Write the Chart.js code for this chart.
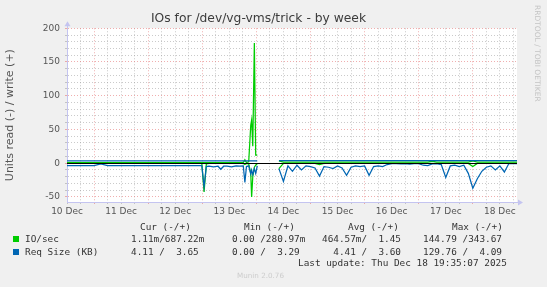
<!DOCTYPE html>
<html>
<head>
<meta charset="utf-8">
<title>IOs for /dev/vg-vms/trick - by week</title>
<script src="https://cdn.jsdelivr.net/npm/chart.js@4"></script>
<style>
  html, body { margin: 0; padding: 0; background: #f0f0f0; }
  #wrap { position: relative; width: 547px; height: 287px; overflow: hidden; background: #f0f0f0; }
  #wrap canvas { position: absolute; left: 0; top: 0; }
  .mono { position: absolute; white-space: pre; font-family: 'DejaVu Sans Mono', monospace; font-size: 9.4px; line-height: 10px; color: #333; }
  .swatch { position: absolute; width: 6px; height: 6px; }
  #vendor { position: absolute; left: 533px; top: 5px; writing-mode: vertical-rl; font-family: 'DejaVu Sans', sans-serif; font-size: 7.5px; color: #c4c4c4; white-space: nowrap; }
  #version { position: absolute; left: 0; width: 521px; top: 271px; text-align: center; font-family: 'DejaVu Sans', sans-serif; font-size: 7.2px; color: #cdcdcd; }
</style>
</head>
<body>
<div id="wrap">
  <canvas id="chart" width="547" height="287"></canvas>
  <div id="vendor">RRDTOOL / TOBI OETIKER</div>
  <div id="version">Munin 2.0.76</div>
</div>
<script>
// 시간축: 12월 10일 00:00 기준 경과 시간(h)
const timeHours = [
    12, 15, 18, 21, 24, 27, 30, 36, 42, 48, 54, 60, 66, 70, 71.8,
    72.8, 73.8, 75, 77, 79, 80.2, 81.5, 83, 85, 87, 88.5, 90.2, 90.9, 91.6, 92.6,
    93.5, 93.9, 94.4, 95.1, 95.7, 96.4, 97,
    106, 108, 110, 112, 114, 116, 118, 120, 122, 124, 126, 128, 130, 132, 134,
    136, 138, 140, 142, 144, 146, 148, 150, 152, 154, 156, 158, 160, 162, 164,
    166, 168, 170, 172, 174, 176, 178, 180, 182, 184, 186, 188, 190, 192, 194,
    196, 198, 200, 202, 204, 206, 208, 210, 211.6
];

// read 값은 아래(-)로, write 값은 위(+)로 그림
const ioRead = [
    0.4, 0.4, 0.4, 0.4, 0.4, 0.4, 0.4, 0.4, 0.4, 0.4, 0.4, 0.4, 0.4, 0.4, 0.4,
    42.6, 1, 0.4, 0.4, 0.4, 0.4, 0.4, 0.4, 0.4, 0.4, 0.4, 0.4, 2, 0.4, 1,
    15, 50, 20, 6, 3, 0.5, null,
    8, 0.3, 0.3, 0.3, 0.3, 0.3, 0.3, 0.3, 0.3, 2, 0.3, 0.3, 0.3, 0.3, 0.3,
    0.3, 0.3, 0.3, 0.3, 0.3, 0.3, 0.3, 0.3, 0.3, 0.3, 0.3, 0.3, 0.3, 0.3, 0.3,
    0.3, 0.3, 0.3, 0.3, 0.3, 0.3, 0.3, 0.3, 0.3, 0.3, 0.3, 0.3, 0.3, 5, 0.3,
    0.3, 0.3, 0.3, 0.3, 0.3, 0.3, 0.3, 0.3, 0.3
];
const ioWrite = [
    1, 1, 1, 1, 1, 1, 1, 1, 1, 1, 1, 1, 1, 1, 1,
    1, 1, 1, 1, 1, 1, 1, 1, 1, 1, 1, 1, 5, 1, 2,
    56, 64, 25, 178, 12, 12, null,
    3.5, 1.5, 1.5, 1.5, 1.5, 1.5, 1.5, 1.5, 1.5, 1.5, 1.5, 1.5, 1.5, 1.5, 1.5,
    1.5, 1.5, 1.5, 1.5, 1.5, 1.5, 1.5, 1.5, 1.5, 1.5, 1.5, 1.5, 1.5, 1.5, 1.5,
    1.5, 1.5, 1.5, 1.5, 3, 1.5, 1.5, 1.5, 1.5, 1.5, 1.5, 1.5, 1.5, 3.5, 1.5,
    1.5, 1.5, 1.5, 1.5, 1.5, 1.5, 1.5, 1.5, 1.5
];
const reqSizeRead = [
    3.5, 3.5, 3.5, 3.5, 3.5, 1, 3.5, 3.5, 3.5, 3.5, 3.5, 3.5, 3.5, 3.5, 3.6,
    35, 5, 4.5, 5.5, 4.5, 9, 4.5, 4.5, 5.5, 4, 4.5, 4, 28.6, 5, 4,
    16, 10, 17, 8, 15, 4, null,
    8, 27, 4, 12, 3, 10, 4, 5, 7, 19, 5, 6, 8, 4, 7,
    18, 6, 4, 5, 4, 18, 5, 4, 5, 2, 0.5, 0.8, 1, 0.5, 1.2,
    0.8, 0.5, 3, 3.5, 1, 0.5, 2, 21, 4, 3, 5, 3, 15, 37, 23,
    12, 6, 4, 10, 4, 13, 0.5, 0.5, 0.5
];
const reqSizeWrite = [
    3.5, 3.5, 3.5, 3.5, 3.5, 3.5, 3.5, 3.5, 3.5, 3.5, 3.5, 3.5, 3.5, 3.5, 3.5,
    3.5, 3.5, 3.5, 3.5, 3.5, 3.5, 3.5, 3.5, 3.5, 3.5, 3.5, 3.5, 3.5, 3.5, 3.5,
    3.5, 3.5, 3.5, 3.5, 3.5, 3.5, null,
    3.9, 3.9, 3.9, 3.9, 3.9, 3.9, 3.9, 3.9, 3.9, 3.9, 3.9, 3.9, 3.9, 3.9, 3.9,
    3.9, 3.9, 3.9, 3.9, 3.9, 3.9, 3.9, 3.9, 3.9, 3.9, 3.9, 3.9, 3.9, 3.9, 3.9,
    3.9, 3.9, 3.9, 3.9, 3.9, 3.9, 3.9, 3.9, 3.9, 3.9, 3.9, 3.9, 3.9, 3.9, 3.9,
    3.9, 3.9, 3.9, 3.9, 3.9, 3.9, 3.9, 3.9, 3.9
];

const dayLabels = ['10 Dec', '11 Dec', '12 Dec', '13 Dec', '14 Dec', '15 Dec', '16 Dec', '17 Dec', '18 Dec'];
const X_MIN = 12, X_MAX = 211.6;
const Y_MIN = -57.5, Y_MAX = 200;

const legendHeads = ['Cur (-/+)', 'Min (-/+)', 'Avg (-/+)', 'Max (-/+)'];
const legendNames = ['IO/sec', 'Req Size (KB)'];
const ioStats = ['1.11m/687.22m', '0.00 /280.97m', '464.57m/  1.45', '144.79 /343.67'];
const sizeStats = ['4.11 /  3.65', '0.00 /  3.29', '  4.41 /  3.60', '129.76 /  4.09'];
const lastUpdate = 'Last update: Thu Dec 18 19:35:07 2025';

const GREEN = '#00cc00';
const BLUE = '#0066b3';
const GRID_MINOR = 'rgba(150,150,150,0.5)';
const GRID_MAJOR = 'rgba(230,120,120,0.6)';
const AXIS = 'rgb(196,196,240)';

// 범례 (HTML 텍스트)
const wrap = document.getElementById('wrap');
const addText = (txt, x, yc) => {
    const el = document.createElement('div');
    el.className = 'mono';
    el.textContent = txt;
    el.style.left = x + 'px';
    el.style.top = (yc - 5) + 'px';
    wrap.appendChild(el);
};
const headX = [140, 244, 348, 452];
const statX = [131, 232, 322, 423];
legendHeads.forEach((h, i) => addText(h, headX[i], 226.7));
[[ioStats, GREEN, 239.3], [sizeStats, BLUE, 251.7]].forEach(([stats, color, yc], r) => {
    const sw = document.createElement('div');
    sw.className = 'swatch';
    sw.style.left = '13px';
    sw.style.top = (yc - 3) + 'px';
    sw.style.background = color;
    wrap.appendChild(sw);
    addText(legendNames[r], 25, yc);
    stats.forEach((s, i) => addText(s, statX[i], yc));
});
addText(lastUpdate, 298, 262.7);

const toPoints = (vals, sign) => timeHours.map((t, i) => ({ x: t, y: vals[i] === null ? null : sign * vals[i] }));

const mkSet = (label, vals, sign, color, order) => ({
    label: label,
    data: toPoints(vals, sign),
    borderColor: color,
    borderWidth: 1.25,
    pointRadius: 0,
    tension: 0,
    spanGaps: false,
    fill: false,
    order: order
});

const frame = {
    id: 'frame',
    beforeDraw(chart) {
        const { ctx, chartArea: a } = chart;
        ctx.save();
        ctx.fillStyle = '#ffffff';
        ctx.fillRect(a.left, a.top, a.right - a.left, a.bottom - a.top);
        ctx.restore();
    },
    afterDatasetsDraw(chart) {
        const { ctx, chartArea: a, scales } = chart;
        const y0 = Math.round(scales.y.getPixelForValue(0)) + 0.5;
        ctx.save();
        ctx.strokeStyle = '#000000';
        ctx.lineWidth = 1;
        ctx.beginPath();
        ctx.moveTo(a.left, y0);
        ctx.lineTo(a.right, y0);
        ctx.stroke();
        ctx.restore();
    },
    afterDraw(chart) {
        const { ctx, chartArea: a } = chart;
        const l = Math.round(a.left) + 0.5, b = Math.round(a.bottom) + 0.5;
        ctx.save();
        ctx.strokeStyle = AXIS;
        ctx.fillStyle = AXIS;
        ctx.lineWidth = 1;
        ctx.beginPath();
        ctx.moveTo(l, a.top);
        ctx.lineTo(l, a.top - 3);
        ctx.moveTo(a.right, b);
        ctx.lineTo(a.right + 3, b);
        ctx.stroke();
        ctx.beginPath();
        ctx.moveTo(l, a.top - 7);
        ctx.lineTo(l - 3, a.top - 2);
        ctx.lineTo(l + 3, a.top - 2);
        ctx.closePath();
        ctx.fill();
        ctx.beginPath();
        ctx.moveTo(a.right + 6, b);
        ctx.lineTo(a.right + 1, b - 3);
        ctx.lineTo(a.right + 1, b + 3);
        ctx.closePath();
        ctx.fill();
        ctx.restore();
    }
};

Chart.defaults.font.family = "'DejaVu Sans', sans-serif";

new Chart(document.getElementById('chart'), {
    type: 'line',
    data: {
        datasets: [
            mkSet('IO/sec read', ioRead, -1, GREEN, 4),
            mkSet('IO/sec write', ioWrite, 1, GREEN, 3),
            mkSet('Req Size read', reqSizeRead, -1, BLUE, 2),
            mkSet('Req Size write', reqSizeWrite, 1, BLUE, 1)
        ]
    },
    options: {
        responsive: false,
        animation: false,
        devicePixelRatio: 1,
        layout: { padding: { left: 0, right: 30, top: 0, bottom: 0 } },
        plugins: {
            legend: { display: false },
            tooltip: { enabled: false },
            title: {
                display: true,
                text: 'IOs for /dev/vg-vms/trick - by week',
                color: '#3c3c3c',
                font: { size: 12.3, weight: 'normal', lineHeight: 1.2 },
                padding: { top: 11.6, bottom: 1.9 }
            }
        },
        scales: {
            x: {
                type: 'linear',
                min: X_MIN,
                max: X_MAX,
                afterBuildTicks: axis => {
                    const t = [];
                    for (let h = 12; h <= X_MAX; h += 6) t.push({ value: h });
                    axis.ticks = t;
                },
                afterFit: axis => { axis.height = 85; },
                grid: {
                    color: c => (c.tick && c.tick.value % 24 === 0) ? GRID_MAJOR : GRID_MINOR,
                    tickColor: c => (c.tick && c.tick.value % 24 === 0) ? GRID_MAJOR : GRID_MINOR,
                    tickLength: 2,
                    lineWidth: 1
                },
                border: { color: AXIS, dash: [1, 2] },
                ticks: {
                    autoSkip: false,
                    maxRotation: 0,
                    minRotation: 0,
                    padding: 2,
                    color: '#555',
                    font: { size: 9 },
                    callback: v => (v % 24 === 12) ? dayLabels[(v - 12) / 24] : ''
                }
            },
            y: {
                type: 'linear',
                min: Y_MIN,
                max: Y_MAX,
                afterBuildTicks: axis => {
                    const t = [];
                    for (let v = -50; v <= Y_MAX; v += 10) t.push({ value: v });
                    axis.ticks = t;
                },
                afterFit: axis => { axis.width = 67; },
                grid: {
                    color: c => (c.tick && c.tick.value % 50 === 0) ? GRID_MAJOR : GRID_MINOR,
                    tickColor: c => (c.tick && c.tick.value % 50 === 0) ? GRID_MAJOR : GRID_MINOR,
                    tickLength: 2,
                    lineWidth: 1
                },
                border: { color: AXIS, dash: [1, 2] },
                title: {
                    display: true,
                    text: 'Units read (-) / write (+)',
                    color: '#555',
                    font: { size: 11, lineHeight: 1.2 },
                    padding: { top: 4, bottom: 0 }
                },
                ticks: {
                    autoSkip: false,
                    padding: 5,
                    color: '#555',
                    font: { size: 9 },
                    callback: v => (v % 50 === 0) ? String(v) : ''
                }
            }
        }
    },
    plugins: [frame]
});
</script>
</body>
</html>
